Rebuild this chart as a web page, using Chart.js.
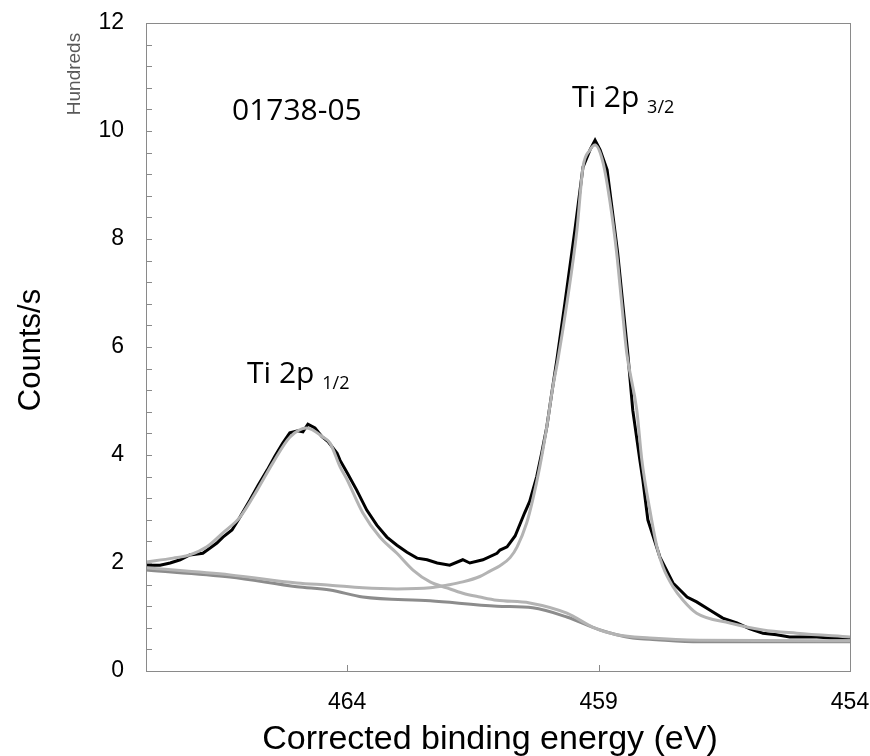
<!DOCTYPE html>
<html>
<head>
<meta charset="utf-8">
<script src="https://cdn.jsdelivr.net/npm/chart.js@4.4.1/dist/chart.umd.min.js"></script>
<style>
  html, body { margin: 0; padding: 0; background: #fff; }
  #wrap { width: 870px; height: 756px; }
</style>
</head>
<body>
<div id="wrap"><canvas id="xpsChart" width="870" height="756"></canvas></div>
<script>
// measured spectrum (black)
const dataEnergy = [468.0, 467.98, 467.72, 467.52, 467.32, 467.13, 466.87, 466.59, 466.47, 466.29, 466.13,
  465.93, 465.77, 465.59, 465.44, 465.28, 465.14, 464.98, 464.88, 464.78, 464.64, 464.50, 464.38,
  464.20, 464.14, 464.00, 463.81, 463.61, 463.41, 463.21, 463.01, 462.81, 462.61, 462.41, 462.21,
  461.96, 461.70, 461.56, 461.30, 461.02, 460.96, 460.82, 460.66, 460.47, 460.37, 460.23, 460.13,
  460.03, 459.93, 459.83, 459.67, 459.47, 459.31, 459.17, 459.07, 458.97, 458.83, 458.72, 458.62,
  458.52, 458.42, 458.32, 458.18, 458.12, 458.02, 457.78, 457.52, 457.24, 457.05, 456.79, 456.53,
  456.25, 455.99, 455.73, 455.46, 455.20, 454.94, 454.66, 454.40, 454.06, 454.0];
const dataCounts = [1.95, 1.96, 1.96, 2.0, 2.06, 2.15, 2.18, 2.37, 2.48, 2.61, 2.85,
  3.17, 3.44, 3.72, 3.97, 4.22, 4.41, 4.45, 4.43, 4.57, 4.50, 4.34, 4.25,
  4.03, 3.90, 3.67, 3.35, 2.98, 2.70, 2.48, 2.33, 2.20, 2.09, 2.06, 2.00,
  1.96, 2.06, 2.00, 2.06, 2.18, 2.24, 2.30, 2.50, 2.93, 3.14, 3.60, 4.04,
  4.52, 5.15, 5.76, 6.81, 8.17, 9.33, 9.65, 9.83, 9.65, 9.28, 8.48, 7.74,
  6.81, 5.89, 4.83, 3.91, 3.54, 2.80, 2.11, 1.63, 1.37, 1.28, 1.13, 0.98,
  0.89, 0.78, 0.70, 0.67, 0.63, 0.63, 0.63, 0.61, 0.61, 0.61];

// Ti 2p 1/2 component + background (light grey)
const p12Energy = [468.0, 467.46, 467.13, 466.79, 466.47, 466.13, 465.79, 465.48, 465.14, 464.80,
  464.48, 464.34, 464.14, 464.00, 463.69, 463.35, 463.01, 462.69, 462.35, 462.02, 461.70, 461.36,
  461.02, 460.37, 459.63, 459.11, 458.64, 457.98, 456.99, 454.0];
const p12Counts = [2.02, 2.09, 2.15, 2.30, 2.56, 2.85, 3.35, 3.85, 4.33, 4.50,
  4.33, 4.22, 3.78, 3.54, 2.93, 2.48, 2.18, 1.87, 1.65, 1.54, 1.44, 1.37,
  1.31, 1.26, 1.07, 0.81, 0.67, 0.61, 0.57, 0.56];

// Ti 2p 3/2 component + background (light grey)
const p32Energy = [468.0, 466.33, 465.00, 464.34, 463.69, 463.01, 462.35, 462.02, 461.70, 461.36,
  461.16, 460.96, 460.76, 460.62, 460.43, 460.31, 460.17, 460.03, 459.91, 459.81, 459.63, 459.43,
  459.31, 459.17, 459.07, 458.91, 458.77, 458.64, 458.54, 458.44, 458.24, 458.14, 457.98, 457.84,
  457.72, 457.52, 457.32, 457.05, 456.39, 455.73, 455.06, 454.0];
const p32Counts = [1.91, 1.78, 1.63, 1.59, 1.54, 1.52, 1.54, 1.59, 1.65, 1.75,
  1.85, 1.95, 2.10, 2.30, 2.74, 3.17, 3.78, 4.52, 5.26, 5.76, 6.81, 8.17,
  9.33, 9.65, 9.74, 9.41, 8.67, 7.74, 6.81, 5.89, 4.83, 3.91, 2.98, 2.30,
  1.93, 1.56, 1.31, 1.07, 0.89, 0.76, 0.70, 0.63];

// Shirley background (dark grey)
const bgEnergy = [468.0, 466.33, 465.00, 464.34, 463.69, 462.35, 461.02, 460.31, 459.63, 458.97,
  458.32, 457.98, 456.99, 454.0];
const bgCounts = [1.87, 1.74, 1.56, 1.50, 1.37, 1.30, 1.20, 1.17, 1.00, 0.76,
  0.61, 0.59, 0.54, 0.54];

const xTicks = [454, 459, 464];
const yTicks = [0, 2, 4, 6, 8, 10, 12];
const yMax = 12;

const toPoints = (xs, ys) => xs.map((x, i) => ({ x: x, y: ys[i] }));

const axisGrey = '#8a8a8a';
const sansFont = '"Liberation Sans", Arial, sans-serif';
const noteFont = '"Open Sans", "Noto Sans", sans-serif';

const framePlugin = {
  id: 'frame',
  afterDraw(chart) {
    const { ctx, chartArea: a, scales } = chart;
    const xs = scales.x, ys = scales.y;
    ctx.save();
    ctx.strokeStyle = axisGrey;
    ctx.lineWidth = 1;
    ctx.strokeRect(a.left + 0.5, a.top + 0.5, a.right - a.left, a.bottom - a.top);
    // inward ticks
    ctx.beginPath();
    for (let v = 0.4; v < yMax - 0.01; v += 0.4) {
      const py = Math.round(ys.getPixelForValue(v)) + 0.5;
      ctx.moveTo(a.left, py);
      ctx.lineTo(a.left + 6, py);
    }
    xTicks.forEach(t => {
      const px = Math.round(xs.getPixelForValue(t)) + 0.5;
      if (px < a.right - 2) {
        ctx.moveTo(px, a.bottom);
        ctx.lineTo(px, a.bottom - 6);
      }
    });
    ctx.stroke();

    // axis titles
    ctx.fillStyle = '#000';
    ctx.font = '34px ' + sansFont;
    ctx.textAlign = 'center';
    ctx.textBaseline = 'middle';
    ctx.fillText('Corrected binding energy (eV)', 490, 740);
    ctx.save();
    ctx.translate(31, 350);
    ctx.rotate(-Math.PI / 2);
    ctx.font = '31px ' + sansFont;
    ctx.fillText('Counts/s', 0, 0);
    ctx.restore();
    ctx.save();
    ctx.translate(75, 74);
    ctx.rotate(-Math.PI / 2);
    ctx.fillStyle = '#595959';
    ctx.font = '19px ' + sansFont;
    ctx.fillText('Hundreds', 0, 0);
    ctx.restore();

    // annotations
    ctx.textAlign = 'left';
    ctx.textBaseline = 'alphabetic';
    ctx.fillStyle = '#000';
    const note = (main, sub, ex, ey) => {
      const px = xs.getPixelForValue(ex), py = ys.getPixelForValue(ey);
      ctx.font = '30px ' + noteFont;
      ctx.fillText(main, px, py);
      if (sub) {
        const w = ctx.measureText(main + ' ').width;
        ctx.font = '18px ' + noteFont;
        ctx.fillText(sub, px + w, py + 6);
      }
    };
    note('01738-05', null, 466.29, 10.2);
    note('Ti 2p', '3/2', 459.53, 10.44);
    note('Ti 2p', '1/2', 465.99, 5.33);
    ctx.restore();
  }
};

const lineSet = (label, pts, color, order, smooth) => ({
  label: label,
  data: pts,
  showLine: true,
  borderColor: color,
  borderWidth: 3,
  pointRadius: 0,
  fill: false,
  order: order,
  cubicInterpolationMode: smooth ? 'monotone' : 'default',
  tension: 0
});

new Chart(document.getElementById('xpsChart'), {
  type: 'scatter',
  data: {
    datasets: [
      lineSet('Ti 2p 3/2', toPoints(p32Energy, p32Counts), '#b3b3b3', 1, true),
      lineSet('Ti 2p 1/2', toPoints(p12Energy, p12Counts), '#b3b3b3', 2, true),
      lineSet('Background', toPoints(bgEnergy, bgCounts), '#8c8c8c', 3, true),
      lineSet('Spectrum', toPoints(dataEnergy, dataCounts), '#000000', 4, false)
    ]
  },
  options: {
    responsive: false,
    animation: false,
    events: [],
    layout: { padding: { left: 0, top: 23, right: 20, bottom: 0 } },
    plugins: { legend: { display: false }, tooltip: { enabled: false } },
    scales: {
      x: {
        type: 'linear',
        reverse: true,
        min: 454,
        max: 468,
        afterBuildTicks: (s) => { s.ticks = xTicks.map(v => ({ value: v })); },
        afterFit: (s) => { s.height = 85; s.paddingLeft = 0; s.paddingRight = 0; },
        grid: { display: false, drawTicks: false },
        border: { display: true, color: axisGrey },
        ticks: { color: '#000', font: { family: sansFont, size: 23 }, padding: 18, maxRotation: 0 }
      },
      y: {
        min: 0,
        max: yMax,
        afterBuildTicks: (s) => { s.ticks = yTicks.map(v => ({ value: v })); },
        afterFit: (s) => { s.width = 146; s.paddingTop = 0; s.paddingBottom = 0; },
        grid: { display: false, drawTicks: false },
        border: { display: true, color: axisGrey },
        ticks: { color: '#000', font: { family: sansFont, size: 23 }, padding: 22 }
      }
    }
  },
  plugins: [framePlugin]
});
</script>
</body>
</html>
